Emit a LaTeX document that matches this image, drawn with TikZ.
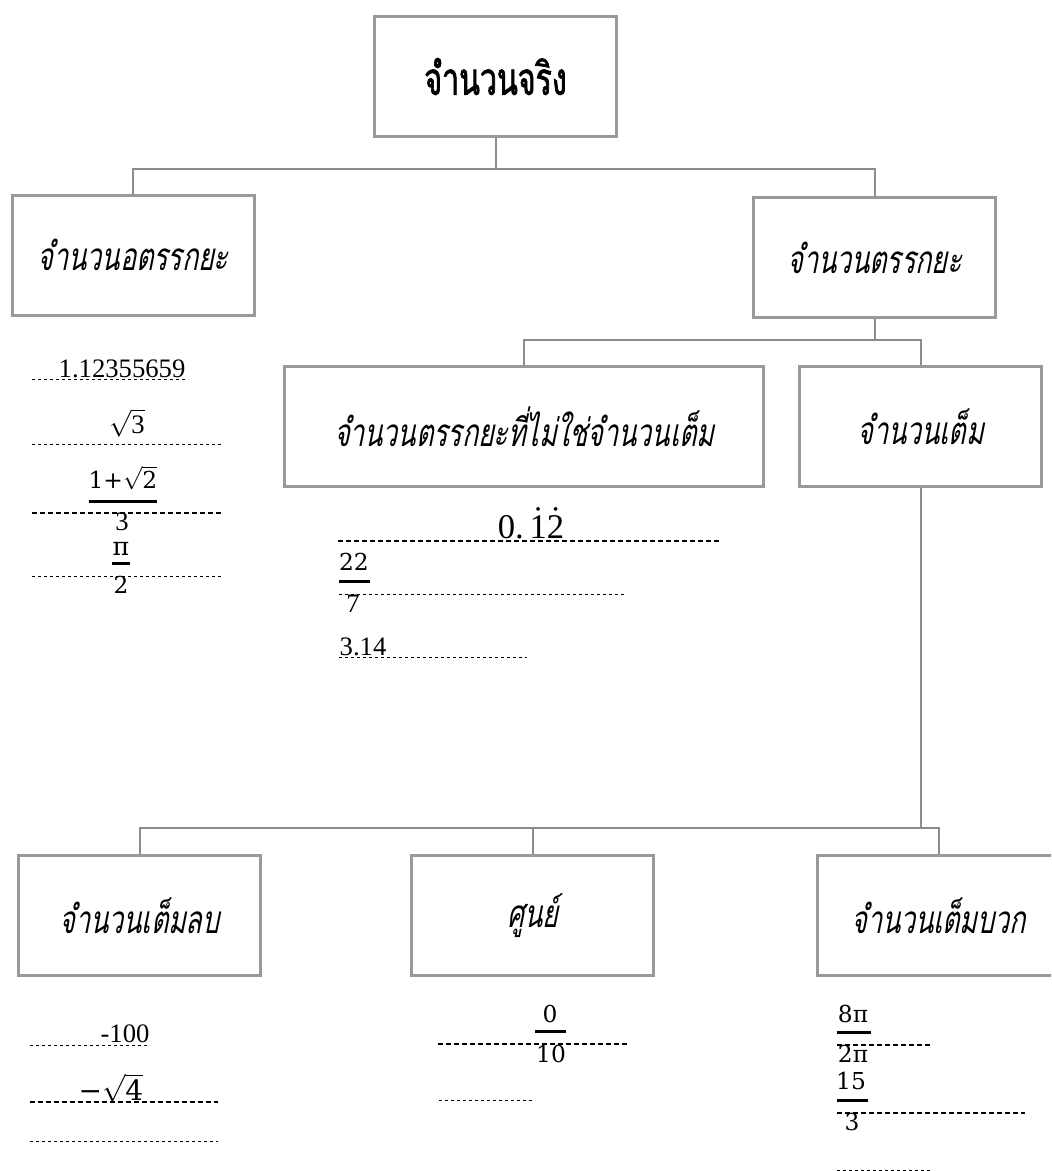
\documentclass[tikz,border=0pt]{standalone}
\usepackage{fix-cm}
\usepackage{fontspec}
\setmainfont{Liberation Serif}
\newfontfamily\thaiit[Script=Thai,FakeSlant=0.2,FakeStretch=0.69]{Loma}
\newfontfamily\thaibf[Script=Thai,FakeBold=1.5,FakeStretch=0.67]{Loma}
\newfontfamily\cam{DejaVu Serif}
\newcommand\dotdig[1]{\ooalign{#1\cr\hidewidth\raisebox{0.22em}{˙}\hidewidth\cr}}
\definecolor{boxgray}{HTML}{999999}
\definecolor{conngray}{HTML}{8C8C8C}
\begin{document}
\begin{tikzpicture}[x=0.75pt,y=-0.75pt,
  box/.style={draw=boxgray,line width=2.25pt,minimum width=181.5pt,minimum height=90pt,inner sep=0pt,font=\thaiit\fontsize{29}{32}\selectfont},
  conn/.style={draw=conngray,line width=1.5pt},
  num/.style={anchor=base,inner sep=0pt,font=\fontsize{20}{24}\selectfont},
  fr/.style={anchor=base,inner sep=0pt,font=\cam\fontsize{17.5}{21}\selectfont},
  bar/.style={line width=2.25pt},
  thinline/.style={dash pattern=on 2.5pt off 2pt,line width=0.75pt},
  thickline/.style={dash pattern=on 3.75pt off 2.25pt,line width=1.5pt}]
\useasboundingbox (0,0) rectangle (1051,1171);
\clip (0,0) rectangle (1051,1171);
% boxes
\node[box,font=\thaibf\fontsize{34}{38}\selectfont] (real) at (495.5,76.5) {จำนวนจริง};
\node[box] (irr) at (133,255) {จำนวนอตรรกยะ};
\node[box] (rat) at (874.5,257.5) {จำนวนตรรกยะ};
\node[box,minimum width=359.25pt] (nonint) at (524,426.5) {จำนวนตรรกยะที่ไม่ใช่จำนวนเต็ม};
\node[box] (int) at (920.5,426.5) {จำนวนเต็ม};
\node[box] (neg) at (139.5,915.5) {จำนวนเต็มลบ};
\node[box] (zero) at (532.5,915.5) {ศูนย์};
\node[box] (pos) at (938.5,915.5) {จำนวนเต็มบวก};
% connectors
\coordinate (j1) at (495.5,169);
\coordinate (j2) at (874.5,340);
\coordinate (j3) at (920.5,828);
\draw[conn] (real.south) -- (j1) -| (irr.north);
\draw[conn] (j1) -| (rat.north);
\draw[conn] (rat.south) -- (j2) -| (nonint.north);
\draw[conn] (j2) -| (int.north);
\draw[conn] (int.south) -- (j3) -| (neg.north);
\draw[conn] (j3) -| (zero.north);
\draw[conn] (j3) -| (pos.north);
% irrational examples
\node[num] (a1) at (122,377) {1.12355659};
\draw[thinline] (32,379) -- (188,379);
\node[num] (a2) at (127,433) {$\sqrt{\hbox{3}}$};
\draw[thinline] (32,444) -- (221,444);
\node[fr] (a3n) at (123,488) {$\hbox{1+}\sqrt{\hbox{2}}$};
\draw[bar] (89,501) -- (157,501);
\draw[thickline] (32,513) -- (221,513);
\node[num] (a3d) at (122,530) {3};
\node[fr,font=\cam\fontsize{19}{22}\selectfont] (a4n) at (121,555) {π};
\draw[bar] (112,563) -- (130,563);
\draw[thinline] (32,576) -- (221,576);
\node[fr] (a4d) at (121,593) {2};
% rational non-integer examples
\node[num,font=\fontsize{26}{30}\selectfont] (b1) at (531,538) {0.\,\dotdig{1}\dotdig{2}};
\draw[thickline] (338,541) -- (720,541);
\node[fr] (b2n) at (354,570) {22};
\draw[bar] (339,581) -- (370,581);
\draw[thinline] (339,594) -- (627,594);
\node[num] (b2d) at (353,612) {7};
\node[num] (b3) at (363,655) {3.14};
\draw[thinline] (339,657) -- (527,657);
% negative
\node[num] (c1) at (125,1042) {-100};
\draw[thinline] (30,1045) -- (150,1045);
\node[num,font=\cam\fontsize{21}{24}\selectfont] (c2) at (111,1100) {−$\sqrt{\hbox{4}}$};
\draw[thickline] (30,1102) -- (218,1102);
\draw[thinline] (30,1141) -- (218,1141);
% zero
\node[fr] (d1n) at (550,1022) {0};
\draw[bar] (535,1031) -- (566,1031);
\draw[thickline] (438,1044) -- (627,1044);
\node[fr] (d1d) at (551,1062) {10};
\draw[thinline] (439,1100) -- (535,1100);
% positive
\node[fr] (e1n) at (853,1022) {8π};
\draw[bar] (837,1032) -- (871,1032);
\draw[thickline] (837,1045) -- (932,1045);
\node[fr] (e1d) at (853,1062) {2π};
\node[fr] (e2n) at (851,1089) {15};
\draw[bar] (837,1100) -- (868,1100);
\draw[thickline] (837,1113) -- (1025,1113);
\node[fr] (e2d) at (852,1130) {3};
\draw[thinline] (837,1170) -- (932,1170);
\end{tikzpicture}
\end{document}
